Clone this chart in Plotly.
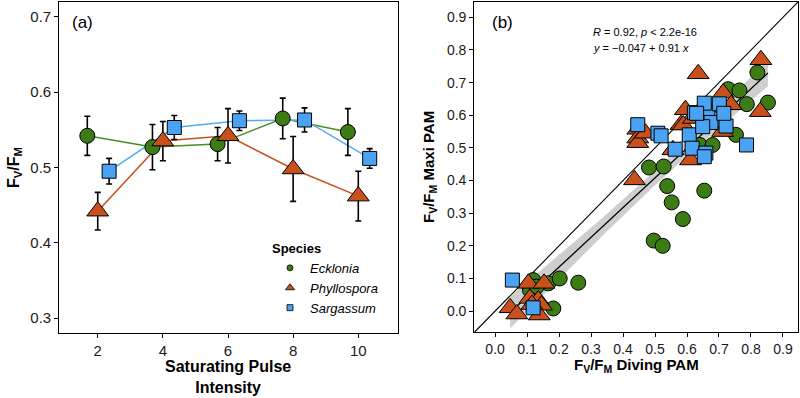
import numpy as np
import plotly.graph_objects as go

# ---------------- Panel (a) data ----------------
intensity = [2, 4, 6, 8, 10]
ecklonia_mean = [0.542, 0.527, 0.531, 0.565, 0.547]
ecklonia_se = [0.026, 0.030, 0.022, 0.027, 0.031]
phyllospora_mean = [0.442, 0.535, 0.542, 0.498, 0.462]
phyllospora_se = [0.025, 0.026, 0.036, 0.043, 0.033]
sargassum_mean = [0.495, 0.553, 0.562, 0.563, 0.512]
sargassum_se = [0.017, 0.016, 0.013, 0.016, 0.013]
dodge = {"Ecklonia": -0.32, "Phyllospora": 0.0, "Sargassum": 0.35}

# ---------------- Panel (b) data ----------------
eck_div = [0.119, 0.109, 0.166, 0.202, 0.260, 0.182, 0.130,
           0.496, 0.524, 0.587, 0.552, 0.538, 0.654, 0.481, 0.527,
           0.640, 0.680, 0.753, 0.729, 0.764, 0.820, 0.853, 0.787, 0.700, 0.660]
eck_maxi = [0.095, 0.064, 0.085, 0.100, 0.087, 0.008, 0.075,
            0.216, 0.200, 0.282, 0.333, 0.383, 0.369, 0.440, 0.443,
            0.509, 0.509, 0.540, 0.680, 0.676, 0.731, 0.639, 0.634, 0.630, 0.600]
phy_div = [0.104, 0.153, 0.047, 0.068, 0.109, 0.135, 0.145, 0.138, 0.115,
           0.436, 0.446, 0.446, 0.446, 0.470, 0.556, 0.611, 0.595, 0.581,
           0.635, 0.831, 0.713, 0.738, 0.829, 0.711, 0.588, 0.620]
phy_maxi = [0.085, 0.085, 0.010, -0.009, 0.039, 0.034, 0.018, -0.012, 0.020,
            0.402, 0.557, 0.530, 0.516, 0.545, 0.494, 0.463, 0.617, 0.571,
            0.727, 0.770, 0.668, 0.632, 0.611, 0.550, 0.570, 0.590]
sar_div = [0.054, 0.119,
           0.446, 0.509, 0.519, 0.563, 0.607, 0.616, 0.659, 0.654, 0.786,
           0.623, 0.665, 0.701, 0.654, 0.675, 0.722, 0.715, 0.649, 0.630]
sar_maxi = [0.095, 0.010,
            0.571, 0.545, 0.537, 0.496, 0.540, 0.499, 0.484, 0.473, 0.509,
            0.608, 0.608, 0.635, 0.637, 0.578, 0.567, 0.606, 0.565, 0.606]

fit_intercept = -0.047
fit_slope = 0.91
stat_lines = ["<i>R</i> = 0.92, <i>p</i> &lt; 2.2e-16",
              "<i>y</i> = \u22120.047 + 0.91 <i>x</i>"]

species = ["Ecklonia", "Phyllospora", "Sargassum"]
fills = {"Ecklonia": "#3d7c14", "Phyllospora": "#c8501c", "Sargassum": "#4aa3f2"}
lines_c = {"Ecklonia": "#4a8c24", "Phyllospora": "#c8501c", "Sargassum": "#55aaf2"}
symbols = {"Ecklonia": "circle", "Phyllospora": "triangle-up", "Sargassum": "square"}
sizes = {"Ecklonia": 15, "Phyllospora": 19, "Sargassum": 14}
legend_sizes = {"Ecklonia": 6, "Phyllospora": 8, "Sargassum": 6}
means = {"Ecklonia": ecklonia_mean, "Phyllospora": phyllospora_mean, "Sargassum": sargassum_mean}
ses = {"Ecklonia": ecklonia_se, "Phyllospora": phyllospora_se, "Sargassum": sargassum_se}
scat = {"Ecklonia": (eck_div, eck_maxi), "Phyllospora": (phy_div, phy_maxi),
        "Sargassum": (sar_div, sar_maxi)}

FONT = "Liberation Sans, Arial, sans-serif"
W, H = 800, 398

fig = go.Figure()

# panel (a): lines first
for sp in species:
    xs = [v + dodge[sp] for v in intensity]
    fig.add_trace(go.Scatter(x=xs, y=means[sp], mode="lines",
                             line=dict(color=lines_c[sp], width=1.5),
                             showlegend=False, xaxis="x", yaxis="y", hoverinfo="skip"))
for sp in species:
    xs = [v + dodge[sp] for v in intensity]
    fig.add_trace(go.Scatter(
        x=xs, y=means[sp], mode="markers", name=sp,
        marker=dict(symbol=symbols[sp], size=sizes[sp], color=fills[sp],
                    line=dict(color="black", width=1)),
        error_y=dict(type="data", array=ses[sp], color="black", thickness=1.6, width=3),
        xaxis="x", yaxis="y", showlegend=False))

# legend-only entries (small keys, as in the reference)
for sp in species:
    fig.add_trace(go.Scatter(
        x=[None], y=[None], mode="markers", name=f"<i>{sp}</i>",
        marker=dict(symbol=symbols[sp], size=legend_sizes[sp], color=fills[sp],
                    line=dict(color="black", width=0.8)),
        xaxis="x", yaxis="y", showlegend=True))

# panel (b): identity line
lim = [-0.065, 0.947]
fig.add_trace(go.Scatter(x=lim, y=lim, mode="lines", line=dict(color="black", width=1.1),
                         showlegend=False, xaxis="x2", yaxis="y2", hoverinfo="skip"))

# regression ribbon and line
all_x = np.array(eck_div + phy_div + sar_div)
all_y = np.array(eck_maxi + phy_maxi + sar_maxi)
n = len(all_x)
resid = all_y - (fit_intercept + fit_slope * all_x)
s = np.sqrt(np.sum(resid ** 2) / (n - 2))
sxx = np.sum((all_x - all_x.mean()) ** 2)
xg = np.linspace(all_x.min(), all_x.max(), 80)
yg = fit_intercept + fit_slope * xg
se = s * np.sqrt(1.0 / n + (xg - all_x.mean()) ** 2 / sxx)
tcrit = 1.99
fig.add_trace(go.Scatter(x=np.concatenate([xg, xg[::-1]]),
                         y=np.concatenate([yg + tcrit * se, (yg - tcrit * se)[::-1]]),
                         fill="toself", fillcolor="rgba(190,190,190,0.75)",
                         line=dict(width=0), mode="lines", showlegend=False,
                         xaxis="x2", yaxis="y2", hoverinfo="skip"))
fig.add_trace(go.Scatter(x=xg, y=yg, mode="lines", line=dict(color="black", width=1.3),
                         showlegend=False, xaxis="x2", yaxis="y2", hoverinfo="skip"))

for sp in species:
    xs, ys = scat[sp]
    fig.add_trace(go.Scatter(
        x=xs, y=ys, mode="markers",
        marker=dict(symbol=symbols[sp], size=sizes[sp], color=fills[sp],
                    line=dict(color="black", width=1)),
        showlegend=False, xaxis="x2", yaxis="y2"))

def px_x(p):
    return p / W

def px_y(p):
    return 1 - p / H

axis_common = dict(showline=True, linecolor="black", linewidth=1.2, mirror=True,
                   ticks="outside", ticklen=4, tickcolor="black", tickwidth=1,
                   showgrid=False, zeroline=False, automargin=False)

fig.update_layout(
    width=W, height=H, margin=dict(l=0, r=0, t=0, b=0, autoexpand=False),
    paper_bgcolor="white", plot_bgcolor="white",
    font=dict(family=FONT, color="black"),
    xaxis=dict(domain=[px_x(59.3), px_x(397.7)], range=[0.82, 11.21],
               tickvals=intensity, tickfont=dict(size=15, color="#1a1a1a"),
               anchor="y", **axis_common),
    yaxis=dict(domain=[px_y(333.3), px_y(2)], range=[0.28, 0.7195],
               tickvals=[0.3, 0.4, 0.5, 0.6, 0.7], tickformat=".1f",
               tickfont=dict(size=15, color="#1a1a1a"), anchor="x", **axis_common),
    xaxis2=dict(domain=[px_x(474.3), px_x(798)], range=lim,
                tickvals=[0.0, 0.1, 0.2, 0.3, 0.4, 0.5, 0.6, 0.7, 0.8, 0.9], tickformat=".1f",
                tickfont=dict(size=14, color="#1a1a1a"), anchor="y2", **axis_common),
    yaxis2=dict(domain=[px_y(332.3), px_y(2)], range=lim,
                tickvals=[0.0, 0.1, 0.2, 0.3, 0.4, 0.5, 0.6, 0.7, 0.8, 0.9], tickformat=".1f",
                tickfont=dict(size=14, color="#1a1a1a"), anchor="x2", **axis_common),
    legend=dict(x=px_x(270), y=px_y(236), xanchor="left", yanchor="top",
                title=dict(text="<b>Species</b>", font=dict(size=13)),
                font=dict(size=13), itemsizing="trace", bgcolor="rgba(0,0,0,0)",
                tracegroupgap=0, itemwidth=30),
)

ann = [
    dict(text="(a)", x=px_x(70), y=px_y(22), xanchor="left", yanchor="middle", font=dict(size=17)),
    dict(text="(b)", x=px_x(490), y=px_y(22), xanchor="left", yanchor="middle", font=dict(size=17)),
    dict(text="<b>F<sub>V</sub>/F<sub>M</sub></b>", x=px_x(14), y=px_y(168), textangle=-90,
         xanchor="center", yanchor="middle", font=dict(size=16)),
    dict(text="<b>Saturating Pulse<br>Intensity</b>", x=px_x(228), y=px_y(377),
         xanchor="center", yanchor="middle", font=dict(size=16)),
    dict(text="<b>F<sub>V</sub>/F<sub>M</sub> Maxi PAM</b>", x=px_x(429), y=px_y(167), textangle=-90,
         xanchor="center", yanchor="middle", font=dict(size=15)),
    dict(text="<b>F<sub>V</sub>/F<sub>M</sub> Diving PAM</b>", x=px_x(636), y=px_y(365),
         xanchor="center", yanchor="middle", font=dict(size=15)),
    dict(text=stat_lines[0], x=px_x(591), y=px_y(32), xanchor="left", yanchor="middle",
         font=dict(size=11)),
    dict(text=stat_lines[1], x=px_x(591), y=px_y(48), xanchor="left", yanchor="middle",
         font=dict(size=11)),
]
for a in ann:
    a.update(xref="paper", yref="paper", showarrow=False)
fig.update_layout(annotations=ann)

fig.write_html("out.html", config={"displayModeBar": False},
               post_script="document.body.style.margin='0';document.body.style.overflow='hidden';")
